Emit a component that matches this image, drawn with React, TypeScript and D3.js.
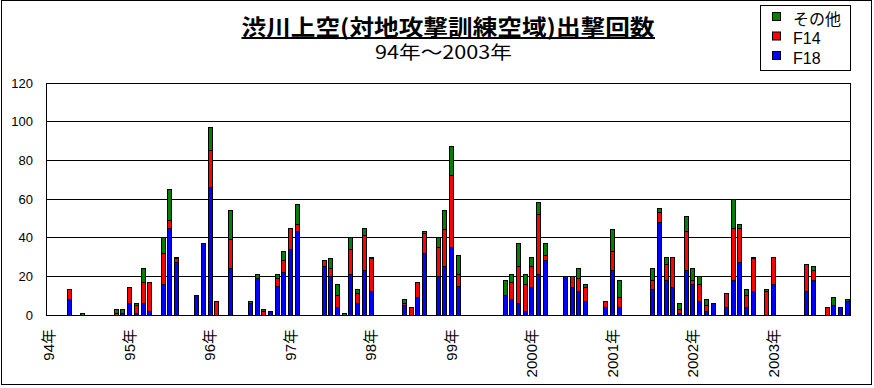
import * as d3 from "d3";

// 月別出撃回数 (1994年1月〜2003年12月)
const years = ["94年", "95年", "96年", "97年", "98年", "99年", "2000年", "2001年", "2002年", "2003年"];

const f18 = [
  0, 0, 0, 8, 0, 0, 0, 0, 0, 0, 0, 1,
  6, 1, 6, 2, 0, 16, 45, 27, 0, 0, 10, 37,
  66, 0, 0, 24, 0, 0, 6, 19, 0, 2, 15, 22,
  34, 43, 0, 0, 0, 25, 20, 4, 0, 21, 6, 23,
  12, 0, 0, 0, 0, 5, 0, 9, 32, 0, 20, 25,
  35, 15, 0, 0, 0, 0, 0, 0, 10, 8, 6, 2,
  14, 21, 28, 0, 0, 20, 14, 12, 7, 0, 0, 4,
  23, 4, 0, 0, 0, 0, 13, 48, 18, 14, 1, 23,
  16, 7, 2, 6, 0, 4, 18, 27, 4, 12, 0, 0,
  16, 0, 0, 0, 0, 12, 18, 0, 0, 5, 4, 7,
];

const f14 = [
  0, 0, 0, 5, 0, 0, 0, 0, 0, 0, 1, 0,
  8, 4, 11, 15, 0, 16, 4, 2, 0, 0, 0, 0,
  19, 7, 0, 15, 0, 0, 0, 0, 2, 0, 4, 6,
  11, 4, 0, 0, 0, 3, 4, 6, 0, 13, 5, 18,
  17, 0, 0, 0, 0, 1, 4, 8, 10, 0, 15, 19,
  37, 6, 0, 0, 0, 0, 0, 0, 0, 9, 19, 14,
  11, 31, 3, 0, 0, 0, 6, 7, 7, 0, 0, 3,
  10, 5, 0, 0, 0, 0, 5, 5, 8, 16, 2, 20,
  2, 9, 3, 0, 0, 7, 27, 18, 6, 17, 0, 12,
  14, 0, 0, 0, 0, 14, 5, 0, 4, 0, 0, 0,
];

const others = [
  0, 0, 0, 0, 0, 1, 0, 0, 0, 0, 2, 2,
  0, 1, 7, 0, 0, 8, 16, 1, 0, 0, 0, 0,
  12, 0, 0, 15, 0, 0, 1, 2, 1, 0, 2, 5,
  0, 10, 0, 0, 0, 0, 5, 6, 1, 6, 2, 4,
  1, 0, 0, 0, 0, 2, 0, 0, 1, 0, 5, 10,
  15, 10, 0, 0, 0, 0, 0, 0, 8, 4, 12, 5,
  5, 6, 6, 0, 0, 0, 0, 5, 2, 0, 0, 0,
  11, 9, 0, 0, 0, 0, 6, 2, 4, 0, 3, 8,
  6, 4, 3, 0, 0, 0, 15, 2, 3, 1, 0, 1,
  0, 0, 0, 0, 0, 0, 2, 0, 0, 4, 0, 1,
];

const seriesKeys = ["F18", "F14", "その他"];
const seriesColors = ["#0000ff", "#ff0000", "#008000"];
const yTicks = [0, 20, 40, 60, 80, 100, 120];

const W = 874;
const H = 388;
const left = 46, right = 850, top = 82.5, bottom = 314.5;

const App = () => {
  const months = d3.range(f18.length);
  const rows = months.map((i) => ({ i, F18: f18[i], F14: f14[i], その他: others[i] }));
  const stacked = d3.stack<any>().keys(seriesKeys)(rows);

  const x = d3.scaleBand<number>().domain(months).range([left, right]).paddingInner(0.3).paddingOuter(0.1);
  const y = d3.scaleLinear().domain([0, 120]).range([bottom, top]);

  const font = "'Liberation Sans', Arial, 'Noto Sans CJK JP', sans-serif";
  const jp = "'Noto Sans CJK JP', sans-serif";

  return (
    <>
      <style>{`body{margin:0}`}</style>
      <svg width={W} height={H} style={{ display: "block" }}>
        <rect x={0} y={0} width={W} height={H} fill="#fff" />
        <rect x={1.5} y={0.5} width={870} height={384} fill="none" stroke="#000" />

        {/* title */}
        <text x={241.5} y={35} fontFamily={jp} fontWeight="bold" fontSize={22}
          textLength={413} lengthAdjust="spacingAndGlyphs">渋川上空(対地攻撃訓練空域)出撃回数</text>
        <line x1={241.5} x2={655} y1={38} y2={38} stroke="#000" strokeWidth={2} />
        <text x={375} y={59} fontFamily={jp} fontSize={18}
          textLength={137} lengthAdjust="spacingAndGlyphs">94年～2003年</text>

        {/* grid */}
        {yTicks.map((t) => (
          <g key={t}>
            <line x1={left} x2={right + 1} y1={Math.round(y(t)) + 0.5} y2={Math.round(y(t)) + 0.5} stroke="#000" />
            <text x={33} y={Math.round(y(t)) + 0.5} dy="0.36em" textAnchor="end" fontFamily={font} fontSize={13}>{t}</text>
          </g>
        ))}
        <line x1={left + 0.5} x2={left + 0.5} y1={Math.round(y(120))} y2={Math.round(y(0)) + 1} stroke="#000" />
        <line x1={right + 0.5} x2={right + 0.5} y1={Math.round(y(120))} y2={Math.round(y(0)) + 1} stroke="#000" />

        {/* bars */}
        {stacked.map((s, si) => (
          <g key={s.key} fill={seriesColors[si]} stroke="#000" strokeWidth={1}>
            {s.map((d: any, i: number) => {
              if (d[1] - d[0] <= 0) return null;
              const x0 = Math.round(x(i)!);
              const y1 = Math.round(y(d[1]));
              const y0 = Math.round(y(d[0]));
              return <rect key={i} x={x0 + 0.5} y={y1 + 0.5} width={Math.round(x.bandwidth()) - 1} height={Math.max(y0 - y1, 1)} />;
            })}
          </g>
        ))}

        {/* x labels */}
        {years.map((yr, k) => {
          const cx = x(k * 12)! + x.bandwidth() / 2;
          return (
            <text key={yr} transform={`translate(${cx},329) rotate(-90)`} dy="0.36em" textAnchor="end"
              fontFamily={font} fontSize={15}>{yr}</text>
          );
        })}

        {/* legend */}
        <rect x={760.5} y={5.5} width={90} height={65} fill="#fff" stroke="#000" />
        {[2, 1, 0].map((si, r) => (
          <g key={si}>
            <rect x={772.5} y={12.5 + r * 19.5} width={8} height={8} fill={seriesColors[si]} stroke="#000" />
            <text x={793} y={25 + r * 19.3} fontFamily={font} fontSize={16}>{seriesKeys[si]}</text>
          </g>
        ))}
      </svg>
    </>
  );
};

export default App;
